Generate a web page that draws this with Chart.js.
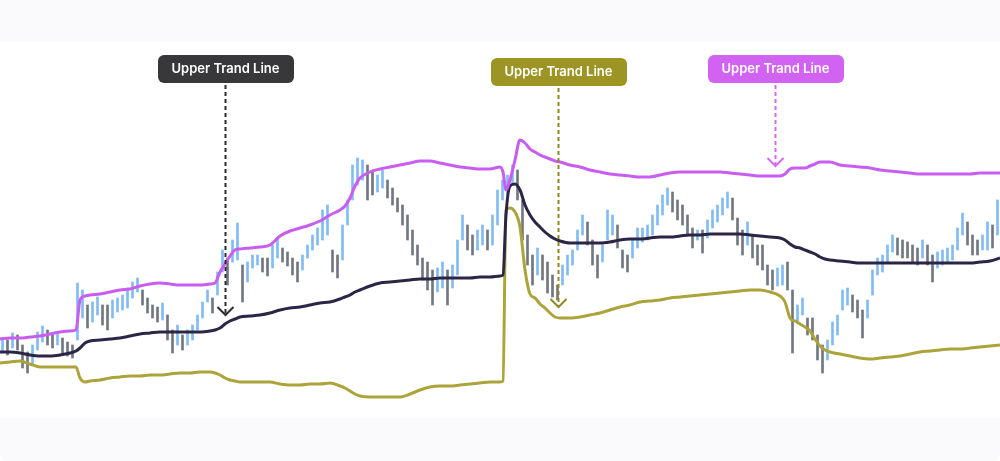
<!DOCTYPE html>
<html><head><meta charset="utf-8">
<script src="https://cdn.jsdelivr.net/npm/chart.js@4.4.1/dist/chart.umd.min.js"></script>
<style>
html,body{margin:0;padding:0;background:#fff;}
#wrap{position:relative;width:1000px;height:461px;background:linear-gradient(#faf9fc 0,#faf9fc 42px,#ffffff 42px,#ffffff 418px,#faf9fc 418px,#faf9fc 461px);border-radius:0 0 8px 8px;overflow:hidden;}
canvas{display:block}
</style></head><body>
<div id="wrap"><canvas id="c" width="1000" height="461"></canvas></div>
<script>
// price bars (one per period)
const candleHigh = [
162,160,167,165,155,148,155,168,174,170, 165,167,162,158,155,217,210,195,198,203,
195,195,200,202,205,212,218,222,210,202, 195,193,197,185,170,175,165,170,175,185,
198,210,202,228,250,242,260,277,235,238, 245,245,242,242,255,262,252,248,242,238,
245,255,265,272,290,295,250,245,275,300, 335,342,340,335,328,325,330,320,312,302,
295,285,270,255,242,238,230,232,238,230, 235,260,285,275,265,270,275,270,285,310,
320,325,335,330,300,265,245,252,245,238, 225,215,235,245,250,270,285,278,260,245,
255,290,285,275,250,245,260,272,272,275, 285,295,305,312,308,300,295,285,272,270,
270,280,290,295,302,308,302,282,270,278, 265,255,255,235,230,232,235,238,210,195,
202,182,182,165,155,160,178,185,210,212, 205,200,190,200,230,242,245,255,265,262,
260,258,255,252,260,255,245,248,250,252, 255,272,287,278,265,260,265,278,275,300
];
const candleLow = [
148,145,152,150,132,127,135,150,158,155, 152,155,146,144,142,160,182,172,178,185,
175,170,182,188,190,192,202,208,195,187, 182,178,180,160,147,155,150,155,160,170,
182,198,187,205,228,215,238,240,198,218, 232,235,228,224,232,242,238,234,225,218,
230,242,250,255,260,265,228,222,240,275, 300,315,320,300,305,308,312,302,295,288,
275,260,245,235,220,210,195,208,212,195, 212,225,260,250,245,250,255,250,255,275,
300,305,315,300,260,235,215,225,220,207, 203,200,215,225,235,250,265,255,235,222,
238,260,265,252,232,228,242,252,258,260, 265,275,285,295,288,280,275,265,252,260,
247,262,272,278,285,292,280,255,245,255, 242,235,230,215,210,214,215,210,147,178,
185,165,160,140,127,140,155,165,190,195, 188,182,162,182,205,225,228,238,248,245,
242,242,238,235,242,235,218,232,235,238, 240,250,265,255,245,245,250,250,252,265
];

// band lines, sampled at these periods
const lineTime = [
0,2,4,6,8,10,12,14,15.2,16,
17,18,20,22,24,26,28,30,32,34,
36,38,40,42,43,44,45,46,47,48,
50,52,54,56,58,60,62,64,66,68,
69,70,71,72,74,76,78,80,82,84,
86,88,90,92,94,96,98,100,100.6,101.2,
102,103,104,105,106,107,108,109,110,111,
112,114,116,118,120,122,124,126,128,130,
132,134,136,138,140,142,144,146,148,150,
152,154,156,157,158,159,160,161,162,163,
164,165,166,168,170,172,174,176,178,180,
182,184,186,188,190,192,194,196,198,200
];
const upperBand = [
161,162,162,163,164,166,168,169,170,200,
204,205,206,208,210,211,214,216,217,216,
215,215,215,216,217,228,236,244,250,251,
252,253,255,264,269,272,275,279,285,290,
294,302,314,322,328,331,333,335,337,339,
339,337,335,333,332,331,331,333,328,310,
320,340,360,357,351,348,345,343,341,339,
338,335,333,330,328,326,325,324,323,323,
325,327,328,328,328,328,328,327,326,325,
324,324,324,326,331,332,332,332,334,336,
338,338,338,335,334,333,332,330,329,328,
327,326,326,326,326,326,326,327,327,327
];
const middleLine = [
148,148,147,145,144,144,145,147,149,152,
157,159,160,161,162,164,166,167,168,168,
168,168,168,169,170,172,176,179,181,183,
184,185,187,190,192,193,195,197,198,201,
203,205,208,210,214,217,218,219,220,221,
221,222,222,222,222,223,223,224,225,285,
314,316,310,295,285,278,273,268,264,261,
259,257,257,257,257,258,260,261,261,262,
263,263,264,265,265,266,266,266,266,265,
264,263,262,260,256,253,252,250,248,246,
243,241,240,239,238,237,237,237,237,237,
237,237,237,237,237,237,237,238,239,242
];
const lowerBand = [
137,138,139,136,133,133,133,133,133,122,
118,119,120,122,123,124,124,125,125,126,
127,127,128,128,127,125,122,120,119,118,
118,118,118,116,115,115,116,116,117,114,
112,109,106,104,103,103,103,103,106,110,
113,114,114,115,116,117,118,118,119,290,
292,288,273,230,206,202,196,192,187,183,
182,182,183,185,187,190,193,195,198,199,
200,202,203,204,205,206,207,208,209,210,
210,208,204,198,182,179,176,173,169,161,
154,150,148,146,144,142,141,142,143,144,
146,148,149,150,151,151,152,153,154,155
];

const calloutText = ['Upper Trand Line','Upper Trand Line','Upper Trand Line'];
const calloutTime = [45, 111.6, 155];
const calloutTip = [185, 193, 334];
const calloutFill = ['#38383b', '#9c9424', '#d262f2'];
const calloutDash = ['#2c2c30', '#8f8820', '#d56af2'];
const calloutTop = [55, 58, 55];

const candleData = candleHigh.map((h, i) => ({x: i + 0.5, y: [candleLow[i], h]}));
const candleColors = candleHigh.map((h, i) => {
  const mid = (h + candleLow[i]) / 2;
  const prev = i > 0 ? (candleHigh[i-1] + candleLow[i-1]) / 2 : mid - 1;
  return mid >= prev ? 'rgba(98,170,242,0.8)' : 'rgba(78,84,98,0.8)';
});
const pts = arr => arr.map((v, i) => ({x: lineTime[i], y: v}));

const calloutPlugin = {
  id: 'callouts',
  afterDatasetsDraw(chart) {
    const ctx = chart.ctx;
    const xs = chart.scales.x, ys = chart.scales.y;
    ctx.save();
    ctx.font = '600 13px Inter, "Noto Sans", sans-serif';
    for (let k = 0; k < calloutText.length; k++) {
      const cx = Math.round(xs.getPixelForValue(calloutTime[k])) + 0.5;
      const tip = ys.getPixelForValue(calloutTip[k]);
      const tw = ctx.measureText(calloutText[k]).width;
      const w = Math.round(tw + 28), h = 28;
      const top = calloutTop[k];
      const left = Math.round(cx - w / 2);
      ctx.strokeStyle = calloutDash[k];
      ctx.lineWidth = 2;
      ctx.setLineDash([4, 3]);
      ctx.beginPath();
      ctx.moveTo(cx, top + h + 2);
      ctx.lineTo(cx, tip - 1);
      ctx.stroke();
      ctx.setLineDash([]);
      ctx.beginPath();
      ctx.moveTo(cx - 8, tip - 8);
      ctx.lineTo(cx, tip);
      ctx.lineTo(cx + 8, tip - 8);
      ctx.stroke();
      ctx.fillStyle = calloutFill[k];
      ctx.beginPath();
      ctx.roundRect(left, top, w, h, 6);
      ctx.fill();
      ctx.fillStyle = '#ffffff';
      ctx.textAlign = 'center';
      ctx.textBaseline = 'middle';
      ctx.fillText(calloutText[k], cx, top + h / 2 + 0.5);
    }
    ctx.restore();
  }
};

new Chart(document.getElementById('c'), {
  type: 'bar',
  data: {
    datasets: [
      {type: 'line', label: 'Upper', data: pts(upperBand), borderColor: '#c95df0', borderWidth: 3, pointRadius: 0, cubicInterpolationMode: 'monotone', order: 1},
      {type: 'line', label: 'Middle', data: pts(middleLine), borderColor: '#2c2546', borderWidth: 3, pointRadius: 0, cubicInterpolationMode: 'monotone', order: 2},
      {type: 'line', label: 'Lower', data: pts(lowerBand), borderColor: '#aca43a', borderWidth: 3, pointRadius: 0, cubicInterpolationMode: 'monotone', order: 3},
      {type: 'bar', label: 'Price', data: candleData, backgroundColor: candleColors, barThickness: 2, order: 10}
    ]
  },
  options: {
    responsive: false,
    animation: false,
    devicePixelRatio: 1,
    layout: {padding: 0},
    plugins: {legend: {display: false}, tooltip: {enabled: false}},
    scales: {
      x: {type: 'linear', min: 0, max: 200, offset: false, grid: {offset: false}, display: false},
      y: {min: 39, max: 500, display: false}
    }
  },
  plugins: [calloutPlugin]
});
</script>
</body></html>
